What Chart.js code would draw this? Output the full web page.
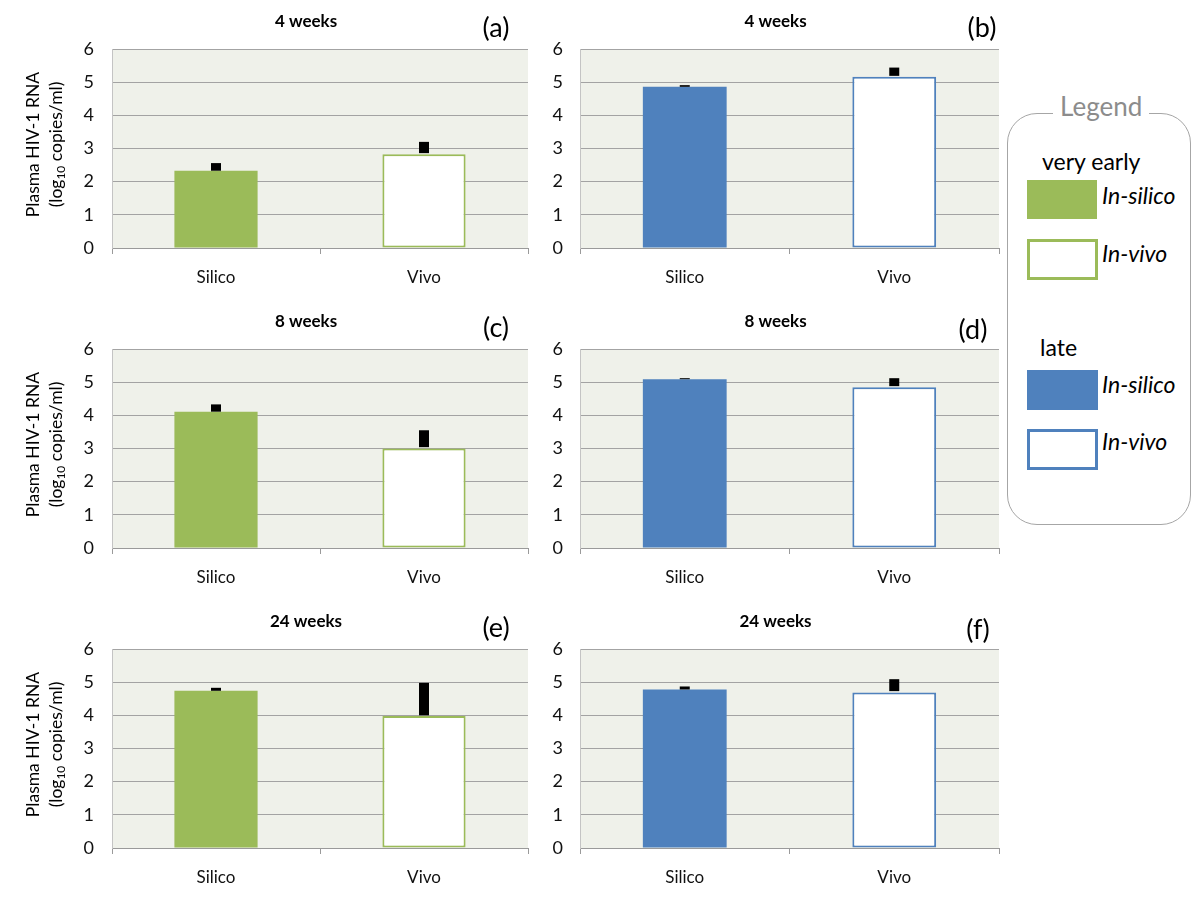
<!DOCTYPE html>
<html><head><meta charset="utf-8">
<script src="https://cdn.jsdelivr.net/npm/chart.js@4.4.1/dist/chart.umd.min.js"></script>
<style>
body{margin:0;background:#fff;width:1200px;height:900px;position:relative;overflow:hidden;font-family:Lato,sans-serif;}
canvas{position:absolute;}
.lg{position:absolute;white-space:nowrap;line-height:1;color:#000;}
.it{font-style:italic;font-size:23px;}
.sw{position:absolute;box-sizing:border-box;}
</style></head><body>
<canvas id="c0" width="545" height="300" style="left:0;top:0"></canvas>
<canvas id="c1" width="462" height="300" style="left:540px;top:0"></canvas>
<canvas id="c2" width="545" height="300" style="left:0;top:300px"></canvas>
<canvas id="c3" width="462" height="300" style="left:540px;top:300px"></canvas>
<canvas id="c4" width="545" height="300" style="left:0;top:600px"></canvas>
<canvas id="c5" width="462" height="300" style="left:540px;top:600px"></canvas>

<div style="position:absolute;left:1007px;top:113px;width:184px;height:412px;box-sizing:border-box;border:1.5px solid #A6A6A6;border-radius:30px;"></div>
<div class="lg" style="left:1053px;top:93px;font-size:26px;color:#8C8C8C;background:#fff;padding:0 7px;">Legend</div>
<div class="lg" style="left:1042px;top:150px;font-size:23px;">very early</div>
<div class="sw" style="left:1027px;top:180px;width:70px;height:39px;background:#9BBB59;"></div>
<div class="lg it" style="left:1102px;top:184px;">In-silico</div>
<div class="sw" style="left:1027px;top:239px;width:71px;height:41px;border:3px solid #9BBB59;background:#fff;"></div>
<div class="lg it" style="left:1102px;top:242px;">In-vivo</div>
<div class="lg" style="left:1040px;top:336px;font-size:23px;">late</div>
<div class="sw" style="left:1027px;top:370px;width:71px;height:40px;background:#4F81BD;"></div>
<div class="lg it" style="left:1102px;top:373px;">In-silico</div>
<div class="sw" style="left:1027px;top:429px;width:71px;height:41px;border:3px solid #4F81BD;background:#fff;"></div>
<div class="lg it" style="left:1102px;top:430px;">In-vivo</div>

<script>
// ---- data ----
const categories = ['Silico', 'Vivo'];
const panelTitles = ['4 weeks', '4 weeks', '8 weeks', '8 weeks', '24 weeks', '24 weeks'];
const panelLetters = ['(a)', '(b)', '(c)', '(d)', '(e)', '(f)'];
const groups = ['very early', 'late', 'very early', 'late', 'very early', 'late'];
const silicoMeans = [2.33, 4.86, 4.11, 5.09, 4.74, 4.78];
const silicoErrTop = [2.56, 4.91, 4.33, 5.12, 4.83, 4.87];
const vivoMeans = [2.83, 5.16, 3.00, 4.85, 3.98, 4.69];
const vivoErrBottom = [2.86, 5.19, 3.04, 4.88, 4.00, 4.73];
const vivoErrTop = [3.20, 5.44, 3.55, 5.12, 4.98, 5.09];
const yTicks = [0, 1, 2, 3, 4, 5, 6];
const yTitleLine1 = 'Plasma HIV-1 RNA';
const yTitleLine2 = ['(log', '10', ' copies/ml)'];

// ---- styles ----
const groupColor = {'very early': '#9BBB59', 'late': '#4F81BD'};
const FONT = 'Lato';

const bgPlugin = {
  id: 'plotBg',
  beforeDraw(chart) {
    const {ctx, chartArea: a} = chart;
    ctx.save();
    ctx.fillStyle = '#EFF1EA';
    ctx.fillRect(a.left, a.top, a.right - a.left, a.bottom - a.top);
    ctx.restore();
  }
};

const textPlugin = {
  id: 'panelText',
  afterDraw(chart, args, o) {
    const {ctx, chartArea: a} = chart;
    ctx.save();
    ctx.fillStyle = '#000';
    ctx.textAlign = 'center';
    ctx.textBaseline = 'middle';
    ctx.font = 'bold 17px ' + FONT;
    ctx.fillText(o.title, (a.left + a.right) / 2 - 14, 22);
    ctx.font = '27px ' + FONT;
    ctx.fillText(o.letter, a.right + o.letterDx, o.letterY);
    if (o.yTitle) {
      const cy = (a.top + a.bottom) / 2;
      ctx.translate(0, cy);
      ctx.rotate(-Math.PI / 2);
      ctx.font = '17.5px ' + FONT;
      ctx.fillText(yTitleLine1, 4, 33);
      ctx.textAlign = 'left';
      const w1 = ctx.measureText(yTitleLine2[0]).width;
      const w3 = ctx.measureText(yTitleLine2[2]).width;
      ctx.font = '12px ' + FONT;
      const w2 = ctx.measureText(yTitleLine2[1]).width;
      const total = w1 + w2 + w3;
      let u = 4 - total / 2;
      ctx.font = '17.5px ' + FONT;
      ctx.fillText(yTitleLine2[0], u, 56);
      u += w1;
      ctx.font = '12px ' + FONT;
      ctx.fillText(yTitleLine2[1], u, 61);
      u += w2;
      ctx.font = '17.5px ' + FONT;
      ctx.fillText(yTitleLine2[2], u, 56);
    }
    ctx.restore();
  }
};

const letterDx = [-32, -17, -32, -26, -32, -21];
const letterY = [28, 28, 28, 30, 28, 30];

for (let i = 0; i < 6; i++) {
  const left = i % 2 === 0;
  const col = groupColor[groups[i]];
  const canvasW = left ? 545 : 462;
  const yAxisW = left ? 112 : 40;
  const plotRight = left ? 528 : 459;
  new Chart(document.getElementById('c' + i), {
    type: 'bar',
    data: {
      labels: categories,
      datasets: [
        {
          label: 'error',
          data: [[silicoMeans[i], silicoErrTop[i]], [vivoErrBottom[i], vivoErrTop[i]]],
          backgroundColor: '#000',
          borderWidth: 0,
          grouped: false,
          barPercentage: 10 / ((plotRight - yAxisW) / 2),
          categoryPercentage: 1,
          order: 0
        },
        {
          label: 'mean',
          data: [silicoMeans[i], vivoMeans[i]],
          backgroundColor: [col, '#FFFFFF'],
          borderColor: [col, col],
          borderWidth: [0, 2],
          borderSkipped: false,
          grouped: false,
          barPercentage: 0.4,
          categoryPercentage: 1,
          order: 1
        }
      ]
    },
    options: {
      responsive: false,
      animation: false,
      devicePixelRatio: 1,
      layout: {padding: {top: 49, right: canvasW - plotRight, left: 0, bottom: 0}},
      plugins: {
        legend: {display: false},
        tooltip: {enabled: false},
        panelText: {title: panelTitles[i], letter: panelLetters[i], letterDx: letterDx[i], letterY: letterY[i], yTitle: left}
      },
      scales: {
        x: {
          offset: true,
          grid: {display: true, drawOnChartArea: false, drawTicks: true, tickLength: 6, color: '#9A9A9A', offset: true},
          border: {display: true, color: '#9A9A9A', width: 1},
          ticks: {color: '#111', font: {family: FONT, size: 17}, padding: 13},
          afterFit(s) { s.height = 52; }
        },
        y: {
          min: 0, max: 6,
          afterBuildTicks(s) { s.ticks = yTicks.map(v => ({value: v})); },
          grid: {color: '#A3A3A3', lineWidth: 1, drawTicks: false},
          border: {display: true, color: '#C4C4C4'},
          ticks: {color: '#111', font: {family: FONT, size: 18}, padding: left ? 18 : 17},
          afterFit(s) { s.width = yAxisW; }
        }
      }
    },
    plugins: [bgPlugin, textPlugin]
  });
}
</script>
</body></html>
